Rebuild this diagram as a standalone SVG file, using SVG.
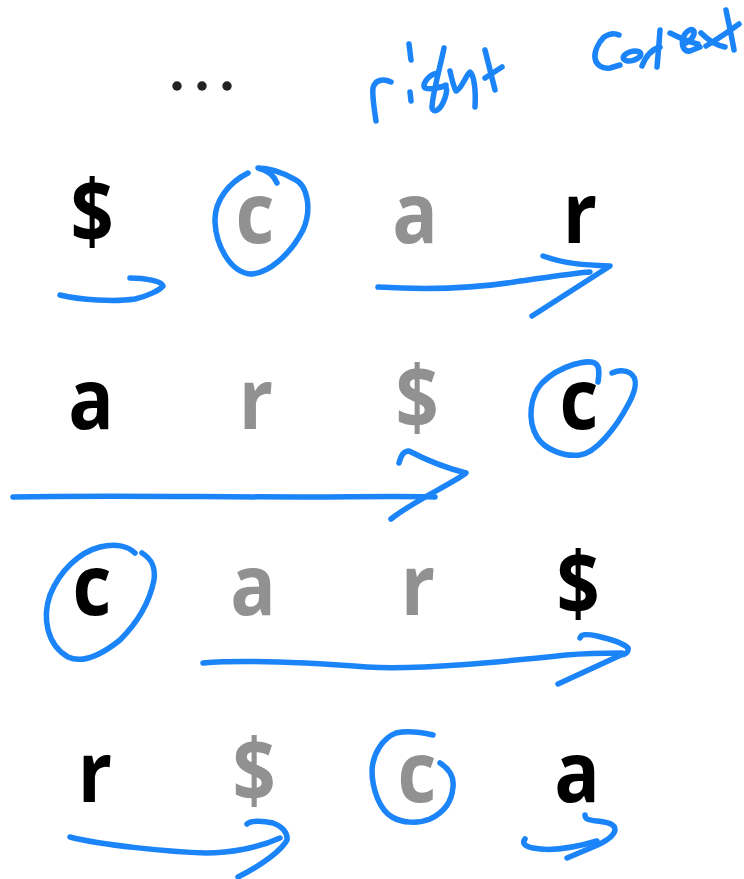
<svg xmlns="http://www.w3.org/2000/svg" width="744" height="879" viewBox="0 0 744 879">
<style>
.k{font-family:"Open Sans","Liberation Sans",sans-serif;font-weight:700;font-size:84px;text-anchor:middle;fill:#000}
.g{fill:#919191}
.s{fill:none;stroke:#1a84f8;stroke-width:5.5;stroke-linecap:round;stroke-linejoin:round}
</style>
<rect width="744" height="879" fill="#fff"/>
<g id="ellipsis" fill="#222">
<circle cx="177" cy="86" r="4.7"/><circle cx="202" cy="86" r="4.7"/><circle cx="227" cy="86" r="4.7"/>
</g>
<g id="row1">
<text class="k" transform="translate(92,243) scale(0.9,1.04)">$</text>
<text class="k g" transform="translate(255,243) scale(0.9,1)">c</text>
<text class="k g" transform="translate(415,243) scale(0.9,1)">a</text>
<text class="k" transform="translate(580,243) scale(0.9,1)">r</text>
</g>
<g id="row2">
<text class="k" transform="translate(91,429) scale(0.9,1)">a</text>
<text class="k g" transform="translate(256,429) scale(0.9,1)">r</text>
<text class="k g" transform="translate(417,429) scale(0.9,1.04)">$</text>
<text class="k" transform="translate(579,429) scale(0.9,1)">c</text>
</g>
<g id="row3">
<text class="k" transform="translate(92,615) scale(0.9,1)">c</text>
<text class="k g" transform="translate(253,615) scale(0.9,1)">a</text>
<text class="k g" transform="translate(418,615) scale(0.9,1)">r</text>
<text class="k" transform="translate(578,615) scale(0.9,1.04)">$</text>
</g>
<g id="row4">
<text class="k" transform="translate(95,802) scale(0.9,1)">r</text>
<text class="k g" transform="translate(254,802) scale(0.9,1.04)">$</text>
<text class="k g" transform="translate(417,802) scale(0.9,1)">c</text>
<text class="k" transform="translate(577,802) scale(0.9,1)">a</text>
</g>
<g id="handwriting" class="s">
<path d="M376,121 C374,108 372,95 373,88 C375,80 383,78 391,82"/>
<path d="M409,44 L411,60"/>
<path d="M410,92 L411,101"/>
<path d="M444,48 C440,68 432,95 432,108 C433,113 440,112 445,98 C448,88 447,85 440,87"/>
<path d="M438,73 C427,75 422,85 425,88 C430,90 440,88 446,85"/>
<path d="M450,71 C452,80 454,88 456,91 C461,90 466,75 470,72 C474,75 476,90 475,107"/>
<path d="M485,50 L495,90"/>
<path d="M485,78 L502,67"/>
<path d="M619,35 C615,33 610,33 604,37 C598,43 594,52 595,58 C596,65 602,69 610,68 L620,65"/>
<ellipse cx="632" cy="56" rx="9" ry="4.5" transform="rotate(-15 632 56)"/>
<path d="M642,66 C645,58 650,50 660,47"/>
<path d="M660,30 C659,45 658,56 657,67"/>
<path d="M670,33 C680,38 688,42 698,44"/>
<path d="M683,44 C690,42 695,36 694,31 C692,28 686,30 683,38 C681,46 684,52 690,51 L700,47"/>
<path d="M701,33 C708,40 715,45 725,47"/>
<path d="M726,10 C729,25 732,38 734,50"/>
<path d="M706,46 C716,40 728,32 739,24"/>
</g>
<g id="connectors" class="s">
<path d="M60,295 C80,300 115,302 135,299 C148,296 160,290 163,286 C162,281 145,278 130,278"/>
<path d="M248,173 C230,182 214,200 215,222 C216,245 230,272 250,274 C268,274 290,255 303,230 C312,210 308,185 294,179 C285,174 270,168 258,168 C266,170 274,175 277,183"/>
<path d="M378,287 C430,290 480,288 520,281 C550,277 575,273 590,272"/>
<path d="M543,256 C565,264 585,265 610,266 L532,316"/>
<path d="M13,497 C100,495 200,497 300,497 C350,497 400,496 435,497"/>
<path d="M399,463 C401,456 403,451 409,451 C430,462 450,469 466,473 C450,485 415,500 391,519"/>
<path d="M598,382 C599,375 600,367 596,364 C590,358 560,365 542,383 C530,396 527,420 537,437 C545,450 565,457 580,455 C595,453 615,430 629,403 C636,390 638,378 630,373 C624,369 616,371 612,373"/>
<path d="M135,553 C128,546 115,543 100,547 C80,552 60,570 50,595 C42,618 47,645 68,657 C85,665 105,652 120,640 C140,620 150,600 154,580 C156,565 150,558 142,553"/>
<path d="M203,663 C240,660 300,662 367,667 C420,670 500,662 566,655 C590,653 610,653 622,653"/>
<path d="M580,638 C581,634 587,634 597,636 C610,639 623,643 628,648 C629,652 625,655 621,655 L558,684"/>
<path d="M70,837 C100,845 170,852 206,853 C230,853 258,848 280,838"/>
<path d="M247,824 C250,821 260,820 273,823 C282,826 288,833 287,840 C282,850 262,865 238,877"/>
<path d="M433,735 C420,732 405,731 396,733 C383,738 373,753 372,770 C372,790 380,810 392,817 C402,823 418,824 430,819 C445,812 452,800 453,787 C454,778 451,770 440,763"/>
<path d="M525,839 C522,843 524,846 533,848 C548,851 570,849 597,841"/>
<path d="M585,815 C585,818 586,820 597,821 C608,822 615,824 615,830 C614,836 605,842 593,847 L567,858"/>
</g>
</svg>
